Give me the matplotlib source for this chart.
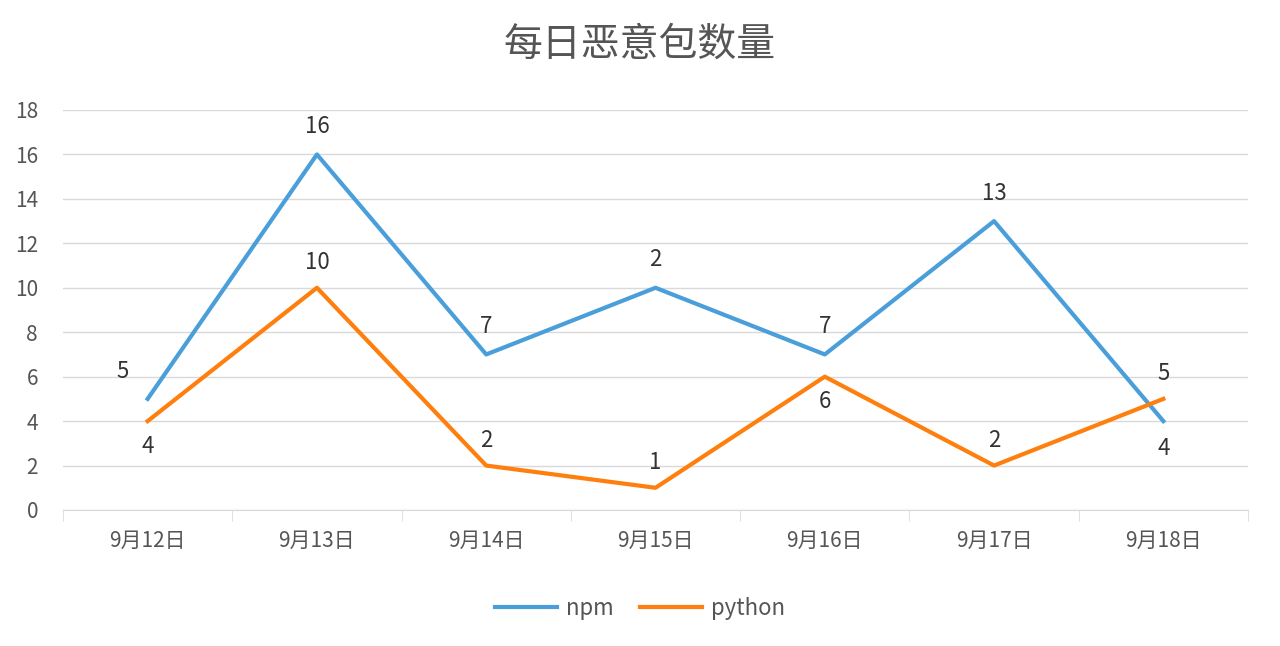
import matplotlib.pyplot as plt
import numpy as np

plt.rcParams['font.family'] = ['Noto Sans CJK SC', 'DejaVu Sans']

categories = ['9月12日', '9月13日', '9月14日', '9月15日', '9月16日', '9月17日', '9月18日']
npm = [5, 16, 7, 10, 7, 13, 4]
npm_labels = ['5', '16', '7', '2', '7', '13', '4']
python = [4, 10, 2, 1, 6, 2, 5]
python_labels = ['4', '10', '2', '1', '6', '2', '5']

# label above (+1) or below (-1)
npm_pos = [1, 1, 1, 1, 1, 1, -1]
python_pos = [-1, 1, 1, 1, -1, 1, 1]

npm_color = '#4A9FDB'
python_color = '#FF7F0E'
grid_color = '#D9D9D9'

fig = plt.figure(figsize=(12.8, 6.46), dpi=100)
ax = fig.add_axes((63 / 1280, 1 - 510 / 646, (1248 - 63) / 1280, 400 / 646))

x = np.arange(len(categories))
ax.plot(x, npm, color=npm_color, linewidth=3, label='npm')
ax.plot(x, python, color=python_color, linewidth=3, label='python')

for xi, v, t, p in zip(x, npm, npm_labels, npm_pos):
    ax.annotate(t, (xi, v), xytext=(-18 if xi == 0 else 0, 20 * p), textcoords='offset points',
                ha='center', va='center', fontsize=16, color='#333333')
for xi, v, t, p in zip(x, python, python_labels, python_pos):
    ax.annotate(t, (xi, v), xytext=(0, 18 * p), textcoords='offset points',
                ha='center', va='center', fontsize=16, color='#333333')

ax.set_xlim(-0.5, 6.5)
ax.set_ylim(0, 18)
ax.set_yticks(range(0, 19, 2))
ax.set_xticks(x)
ax.set_xticklabels(categories, fontsize=15, color='#555555')
ax.set_xticks(np.arange(-0.5, 7, 1), minor=True)
ax.tick_params(axis='x', which='major', length=0, pad=14)
ax.tick_params(axis='x', which='minor', length=8, color=grid_color)
ax.tick_params(axis='y', length=0, labelsize=15, labelcolor='#555555', pad=18)
ax.yaxis.grid(True, color=grid_color, linewidth=1)
ax.set_axisbelow(True)
for s in ['top', 'right', 'left']:
    ax.spines[s].set_visible(False)
ax.spines['bottom'].set_color(grid_color)

fig.text(0.5, 1 - 45 / 646, '每日恶意包数量', ha='center', va='center', fontsize=28,
         fontweight='medium', color='#555555')
fig.legend(loc='center', bbox_to_anchor=(0.5, 1 - 608 / 646), ncol=2, frameon=False,
           fontsize=16, handlelength=2.8, handletextpad=0.4, columnspacing=1.2,
           labelcolor='#555555')

fig.savefig('out.png', dpi=100)
